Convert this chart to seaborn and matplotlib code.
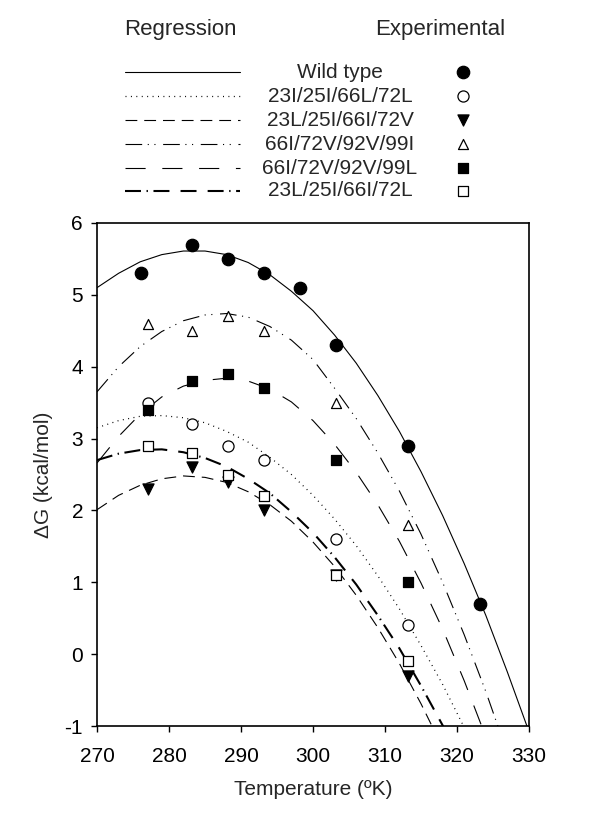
import matplotlib
matplotlib.use("Agg")
import matplotlib.pyplot as plt
import seaborn as sns

# Experimental points (K, kcal/mol)
temp_wt = [276.15, 283.15, 288.15, 293.15, 298.15, 303.15, 313.15, 323.15]
dg_wt = [5.3, 5.7, 5.5, 5.3, 5.1, 4.3, 2.9, 0.7]

temp_mut = [277.15, 283.15, 288.15, 293.15, 303.15, 313.15]
dg_23i_72l = [3.5, 3.2, 2.9, 2.7, 1.6, 0.4]
dg_23l_72v = [2.3, 2.6, 2.4, 2.0, 1.1, -0.3]
dg_99i = [4.6, 4.5, 4.7, 4.5, 3.5, 1.8]
dg_99l = [3.4, 3.8, 3.9, 3.7, 2.7, 1.0]
dg_23l_72l = [2.9, 2.8, 2.5, 2.2, 1.1, -0.1]

# Regression curves, every 3 K
temp_fit = [270, 273, 276, 279, 282, 285, 288, 291, 294, 297, 300,
            303, 306, 309, 312, 315, 318, 321, 324, 327, 330]
fit_wt = [5.10, 5.30, 5.46, 5.56, 5.61, 5.61, 5.56, 5.45, 5.28, 5.05, 4.78,
          4.44, 4.05, 3.60, 3.10, 2.54, 1.93, 1.26, 0.54, -0.25, -1.08]
fit_23i_72l = [3.15, 3.25, 3.31, 3.32, 3.29, 3.22, 3.10, 2.95, 2.74, 2.50, 2.21,
               1.88, 1.51, 1.09, 0.63, 0.12, -0.42, -1.02, -1.65, -2.30, -3.00]
fit_23l_72v = [2.01, 2.21, 2.35, 2.44, 2.48, 2.46, 2.39, 2.26, 2.08, 1.85, 1.56,
               1.22, 0.82, 0.37, -0.13, -0.69, -1.30, -1.95, -2.60, -3.30, -4.00]
fit_99i = [3.65, 4.00, 4.28, 4.49, 4.64, 4.72, 4.74, 4.69, 4.56, 4.37, 4.10,
           3.70, 3.28, 2.80, 2.27, 1.67, 1.00, 0.27, -0.52, -1.38, -2.30]
fit_99l = [2.66, 3.03, 3.34, 3.58, 3.73, 3.81, 3.84, 3.80, 3.69, 3.51, 3.25,
           2.92, 2.53, 2.08, 1.57, 0.99, 0.35, -0.37, -1.15, -1.95, -2.80]
fit_23l_72l = [2.70, 2.79, 2.84, 2.85, 2.81, 2.73, 2.61, 2.44, 2.24, 1.98, 1.69,
               1.35, 0.97, 0.54, 0.08, -0.44, -0.99, -1.59, -2.20, -2.90, -3.60]

names = ["Wild type", "23I/25I/66L/72L", "23L/25I/66I/72V",
         "66I/72V/92V/99I", "66I/72V/92V/99L", "23L/25I/66I/72L"]

sns.set_style("ticks")
plt.rcParams["font.family"] = ["Liberation Sans", "DejaVu Sans"]
plt.rcParams["lines.scale_dashes"] = False
plt.rcParams["axes.unicode_minus"] = False

# line style, width, marker, face, size for each series
styles = [
    ("-", 0.8, "o", "black", 80),
    ((0, (0.7, 3.2)), 0.9, "o", "white", 64),
    ((0, (8.5, 5)), 0.8, "v", "black", 64),
    ((0, (12, 4, 0.8, 4, 0.8, 5.5)), 0.8, "^", "white", 52),
    ((0, (14.5, 12)), 0.8, "s", "black", 46),
    ((0, (11.5, 4, 1, 4, 11.5, 8, 11.5, 8)), 1.5, "s", "white", 52),
]
fits = [fit_wt, fit_23i_72l, fit_23l_72v, fit_99i, fit_99l, fit_23l_72l]
points = [(temp_wt, dg_wt), (temp_mut, dg_23i_72l), (temp_mut, dg_23l_72v),
          (temp_mut, dg_99i), (temp_mut, dg_99l), (temp_mut, dg_23l_72l)]

fig = plt.figure(figsize=(6, 8.31), dpi=100)
ax = fig.add_axes([97 / 600, 1 - 726 / 831, 432 / 600, 503 / 831])

for fit, (ls, lw, mk, fc, s) in zip(fits, styles):
    sns.lineplot(x=temp_fit, y=fit, ax=ax, color="black", linewidth=lw,
                 linestyle=ls, zorder=2)

for (tx, dg), (ls, lw, mk, fc, s) in zip(points, styles):
    sns.scatterplot(x=tx, y=dg, ax=ax, marker=mk, s=s, facecolor=fc,
                    edgecolor="black", linewidth=0.9, zorder=3)

ax.set_xlim(270, 330)
ax.set_ylim(-1, 6)
ax.set_xticks(range(270, 331, 10))
ax.set_yticks(range(-1, 7))
for sp in ax.spines.values():
    sp.set_linewidth(1.2)
    sp.set_color("black")
ax.tick_params(direction="out", length=4, width=1, labelsize=15,
               colors="black")
ax.tick_params(axis="x", pad=11)
ax.tick_params(axis="y", pad=6)
ax.set_xlabel("Temperature (ºK)", fontsize=15, labelpad=10)
ax.set_ylabel("ΔG (kcal/mol)", fontsize=15, labelpad=8)

# legend block above the plot, in figure pixels
lax = fig.add_axes([0, 0, 1, 1])
lax.set_xlim(0, 600)
lax.set_ylim(831, 0)
lax.axis("off")
lax.text(180, 30, "Regression", ha="center", va="center", fontsize=16)
lax.text(440, 30, "Experimental", ha="center", va="center", fontsize=16)
row_y = [72, 96, 120, 144, 168, 191]
for name, y, (ls, lw, mk, fc, s) in zip(names, row_y, styles):
    lax.plot([125, 240], [y, y], color="black", linewidth=lw, linestyle=ls)
    lax.text(340, y, name, ha="center", va="center", fontsize=15)
    lax.scatter([463], [y], marker=mk, s=s, facecolor=fc, edgecolor="black",
                linewidth=0.9)

fig.savefig("out.png", dpi=100)
